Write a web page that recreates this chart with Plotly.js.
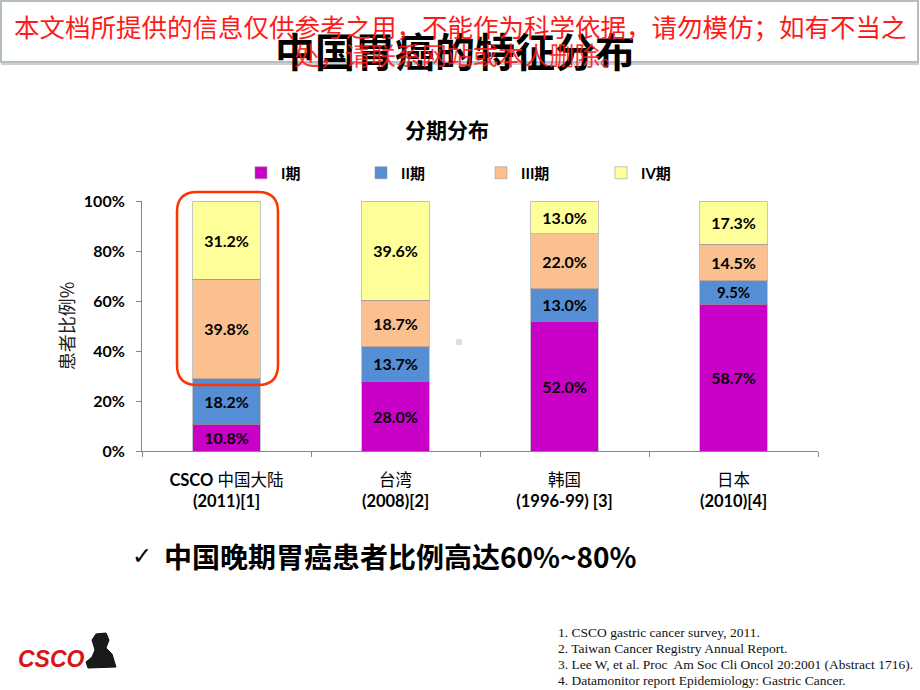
<!DOCTYPE html>
<html>
<head>
<meta charset="utf-8">
<script src="https://cdn.plot.ly/plotly-3.0.1.min.js"></script>
<style>html,body{margin:0;padding:0;background:#fff;}#chart{width:920px;height:690px;}</style>
</head>
<body>
<div id="chart"></div>
<script>
// ---- data ----
const categories = ['CSCO 中国大陆', '台湾', '韩国', '日本'];
const sources = ['(2011)[1]', '(2008)[2]', '(1996-99) [3]', '(2010)[4]'];
const stageNames = ['I期', 'II期', 'III期', 'IV期'];
const stageI = [10.8, 28.0, 52.0, 58.7];
const stageII = [18.2, 13.7, 13.0, 9.5];
const stageIII = [39.8, 18.7, 22.0, 14.5];
const stageIV = [31.2, 39.6, 13.0, 17.3];
const yTicks = [0, 20, 40, 60, 80, 100];
const yTickLabels = ['0%', '20%', '40%', '60%', '80%', '100%'];
const stageColors = ['#C800C8', '#558ED5', '#FAC090', '#FFFF99'];
const references = [
  '1. CSCO gastric cancer survey, 2011.',
  '2. Taiwan Cancer Registry Annual Report.',
  '3. Lee W, et al. Proc  Am Soc Cli Oncol 20:2001 (Abstract 1716).',
  '4. Datamonitor report Epidemiology: Gastric Cancer.'
];
const chartTitle = '分期分布';
const pageTitle = '中国胃癌的特征分布';
const yTitle = '患者比例%';
const conclusion = '中国晚期胃癌患者比例高达60%~80%';
const watermark1 = '本文档所提供的信息仅供参考之用，不能作为科学依据，请勿模仿；如有不当之';
const watermark2 = '处，请联系网站或本人删除。';

// ---- layout helpers (plot area 142..818 x, 201..451 y) ----
const L = 142, R = 818, T = 201, B = 451;
const px = x => (x - L) / (R - L);
const py = y => (B - y) / (B - T);

const FONT = "Lato, 'Noto Sans CJK SC', sans-serif";
const boldLatin = s => s.replace(/[A-Za-z]+/g, m => '<b>' + m + '</b>');
const tickText = categories.map((c, i) => boldLatin(c) + '<br><b>' + sources[i] + '</b>');

const series = [stageI, stageII, stageIII, stageIV];
const traces = series.map((vals, i) => ({
  type: 'bar',
  name: stageNames[i],
  x: categories,
  y: vals,
  marker: {color: stageColors[i], line: {color: 'rgba(150,150,150,0.55)', width: 1}},
  text: vals.map(v => v.toFixed(1) + '%'),
  textposition: 'inside',
  insidetextanchor: 'middle',
  textangle: 0,
  textfont: {family: FONT, size: 16, color: '#000', weight: 'bold'},
  hoverinfo: 'skip'
}));

// rounded highlight box
function roundedPath(x0p, y0p, x1p, y1p, r) {
  const x0 = px(x0p), x1 = px(x1p), yb = py(y1p), yt = py(y0p);
  const rx = r / (R - L), ry = r / (B - T);
  return `M${x0 + rx},${yt} L${x1 - rx},${yt} Q${x1},${yt} ${x1},${yt - ry} ` +
         `L${x1},${yb + ry} Q${x1},${yb} ${x1 - rx},${yb} L${x0 + rx},${yb} ` +
         `Q${x0},${yb} ${x0},${yb + ry} L${x0},${yt - ry} Q${x0},${yt} ${x0 + rx},${yt} Z`;
}
function polyPath(pts) {
  return 'M' + pts.map(p => px(p[0]) + ',' + py(p[1])).join(' L') + ' Z';
}

const shapes = [
  // header box
  {type: 'rect', xref: 'paper', yref: 'paper', x0: px(1), x1: px(918), y0: py(62), y1: py(1),
   line: {color: '#9aa9b0', width: 1.5}, fillcolor: 'rgba(0,0,0,0)', layer: 'below'},
  {type: 'line', xref: 'paper', yref: 'paper', x0: px(1), x1: px(919), y0: py(64), y1: py(64),
   line: {color: '#c9d1d5', width: 2}, layer: 'below'},
  // highlight
  {type: 'path', xref: 'paper', yref: 'paper', path: roundedPath(177, 192, 278, 385, 20),
   line: {color: '#FF3300', width: 2.5}, fillcolor: 'rgba(0,0,0,0)'},
  // tiny grey artifact
  {type: 'rect', xref: 'paper', yref: 'paper', x0: px(456), x1: px(462), y0: py(345), y1: py(339),
   line: {width: 0}, fillcolor: '#dedede'},
  // logo figure (rough)
  {type: 'path', xref: 'paper', yref: 'paper',
   path: polyPath([[92,640],[96,634],[106,633],[109,640],[106,648],[112,654],[116,667],[88,668],[86,662],[92,657],[95,650]]),
   line: {color: '#111', width: 1}, fillcolor: '#1a1a1a'}
];

const annotations = [
  {text: '<b>' + pageTitle + '</b>', xref: 'paper', yref: 'paper', x: px(455), y: py(50),
   xanchor: 'center', yanchor: 'middle', showarrow: false,
   font: {family: "'Noto Sans CJK SC', sans-serif", size: 40, color: '#000'}},
  {text: watermark1, xref: 'paper', yref: 'paper', x: px(460), y: py(25),
   xanchor: 'center', yanchor: 'middle', showarrow: false,
   font: {family: "'Noto Sans CJK SC', serif", size: 25.5, color: '#FF1A1A'}},
  {text: watermark2, xref: 'paper', yref: 'paper', x: px(460), y: py(54),
   xanchor: 'center', yanchor: 'middle', showarrow: false,
   font: {family: "'Noto Sans CJK SC', serif", size: 25.5, color: 'rgba(255,26,26,0.9)'}},
  {text: '✓', xref: 'paper', yref: 'paper', x: px(142), y: py(556),
   xanchor: 'center', yanchor: 'middle', showarrow: false,
   font: {family: 'DejaVu Sans', size: 24, color: '#000'}},
  {text: '<b>' + conclusion + '</b>', xref: 'paper', yref: 'paper', x: px(162), y: py(556),
   xanchor: 'left', yanchor: 'middle', showarrow: false,
   font: {family: "'Noto Sans CJK SC', sans-serif", size: 28, color: '#000'}},
  {text: '<b><i>CSCO</i></b>', xref: 'paper', yref: 'paper', x: px(52), y: py(659),
   xanchor: 'center', yanchor: 'middle', showarrow: false,
   font: {family: 'Liberation Sans', size: 23, color: '#D8131A'}}
];
references.forEach((r, i) => annotations.push({
  text: r, xref: 'paper', yref: 'paper', x: px(556), y: py(632 + i * 16),
  xanchor: 'left', yanchor: 'middle', showarrow: false,
  font: {family: "'Liberation Serif', serif", size: 13.5, color: '#111'}
}));

const layout = {
  width: 920, height: 690,
  margin: {l: L, r: 920 - R, t: T, b: 690 - B, pad: 0},
  paper_bgcolor: '#fff', plot_bgcolor: '#fff',
  font: {family: FONT, color: '#000'},
  barmode: 'stack',
  bargap: 0.6,
  showlegend: true,
  title: {text: '<b>' + chartTitle + '</b>', xref: 'container', yref: 'container',
          x: 447 / 920, y: 1 - 131 / 690, xanchor: 'center', yanchor: 'middle',
          font: {family: FONT, size: 21, color: '#000'}},
  legend: {orientation: 'h', traceorder: 'normal', xref: 'paper', yref: 'paper',
           x: px(241), y: py(173), xanchor: 'left', yanchor: 'middle',
           entrywidth: 75, entrywidthmode: 'pixels', bgcolor: 'rgba(0,0,0,0)',
           font: {family: FONT, size: 15, color: '#000', weight: 'bold'}},
  xaxis: {type: 'category', tickmode: 'array', tickvals: categories, ticktext: tickText,
          showline: true, linecolor: '#868686', linewidth: 1,
          ticks: 'outside', tickson: 'boundaries', ticklen: 5, tickcolor: '#868686',
          ticklabelstandoff: 14,
          tickfont: {family: FONT, size: 16.5, color: '#000'},
          showgrid: false, zeroline: false, fixedrange: true},
  yaxis: {range: [0, 100], tickmode: 'array', tickvals: yTicks, ticktext: yTickLabels,
          showline: true, linecolor: '#868686', linewidth: 1,
          ticks: 'outside', ticklen: 5, tickcolor: '#868686', ticklabelstandoff: 8,
          tickfont: {family: FONT, size: 16, color: '#000', weight: 'bold'},
          showgrid: false, zeroline: false, fixedrange: true,
          title: {text: yTitle, standoff: 4,
                  font: {family: "'Noto Sans CJK SC', sans-serif", size: 18, color: '#222'}}},
  shapes: shapes,
  annotations: annotations
};

Plotly.newPlot('chart', traces, layout, {displayModeBar: false, staticPlot: true});
</script>
</body>
</html>
